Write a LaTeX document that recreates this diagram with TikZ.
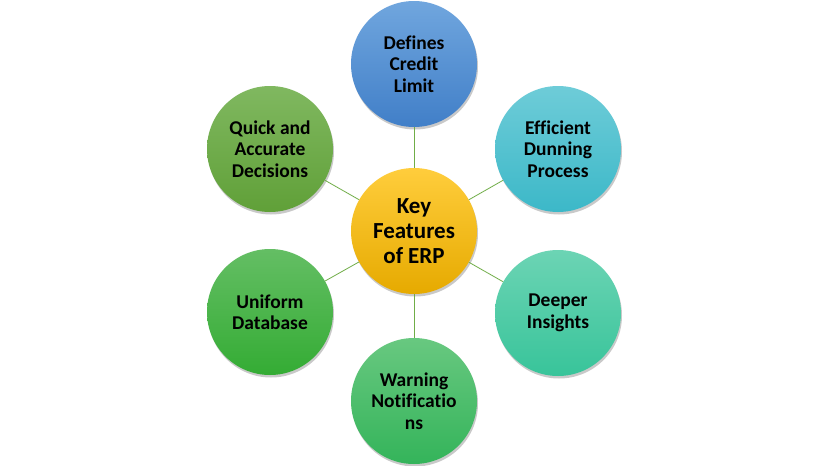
\documentclass[tikz,border=0pt]{standalone}
\usepackage{fontspec}
\setmainfont{Carlito}[Ligatures=NoCommon]
\usetikzlibrary{shadows}
\definecolor{linegreen}{HTML}{70AD47}
\tikzset{
  feat/.style={circle, minimum size=126pt, inner sep=0pt, align=center,
    font=\fontsize{19.5}{21.5}\selectfont\bfseries, text=black,
    drop shadow={shadow xshift=1pt, shadow yshift=-2.5pt, opacity=0.35, fill=black!60}},
  hub/.style={feat, font=\fontsize{23}{25}\selectfont\bfseries},
  link/.style={draw=linegreen, line width=0.8pt}
}
\begin{document}
\begin{tikzpicture}[x=1pt,y=-1pt]
\useasboundingbox[fill=white] (0,0) rectangle (828,466);
\node[hub, top color={rgb,255:red,255;green,205;blue,60}, bottom color={rgb,255:red,230;green,170;blue,0}] (c) at (414,231) {Key\\Features\\of ERP};
\node[feat, top color={rgb,255:red,112;green,166;blue,222}, bottom color={rgb,255:red,65;green,127;blue,200}] (t) at (414,64) {Defines\\Credit\\Limit};
\node[feat, top color={rgb,255:red,110;green,204;blue,216}, bottom color={rgb,255:red,60;green,184;blue,200}] (tr) at (558,149) {Efficient\\Dunning\\Process};
\node[feat, top color={rgb,255:red,108;green,212;blue,180}, bottom color={rgb,255:red,56;green,196;blue,154}] (br) at (558,313) {Deeper\\Insights};
\node[feat, top color={rgb,255:red,104;green,200;blue,128}, bottom color={rgb,255:red,52;green,180;blue,90}] (b) at (414,401) {Warning\\Notificatio\\ns};
\node[feat, top color={rgb,255:red,100;green,190;blue,100}, bottom color={rgb,255:red,52;green,172;blue,52}] (bl) at (270,312) {Uniform\\Database};
\node[feat, top color={rgb,255:red,128;green,184;blue,96}, bottom color={rgb,255:red,96;green,160;blue,56}] (tl) at (270,149) {Quick and\\Accurate\\Decisions};
\foreach \n in {t,tr,br,b,bl,tl}{\draw[link] (c) -- (\n);}
\end{tikzpicture}
\end{document}
